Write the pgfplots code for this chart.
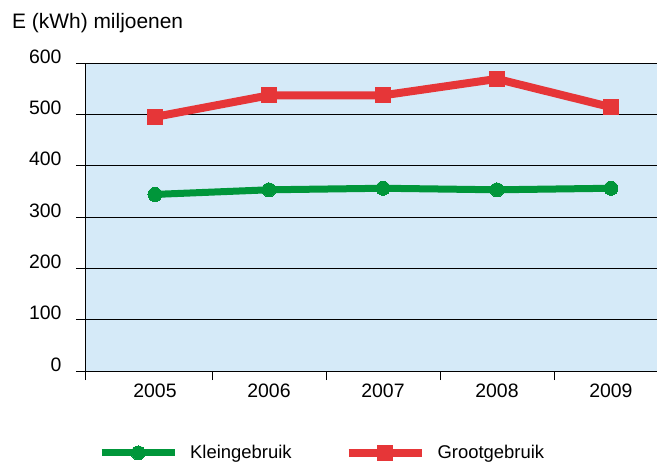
\documentclass[border=0pt]{standalone}
\usepackage{fontspec}
\setmainfont{Liberation Sans}
\usepackage{pgfplots}
\pgfplotsset{compat=1.18}
\definecolor{bgblue}{RGB}{213,234,248}
\definecolor{kgreen}{RGB}{0,150,58}
\definecolor{gred}{RGB}{230,54,56}

\begin{document}
\begin{tikzpicture}
\begin{axis}[
  at={(85bp,93bp)}, anchor=south west,
  scale only axis, width=572bp, height=308bp,
  xmin=-0.614, xmax=4.404, ymin=0, ymax=600,
  axis lines=left,
  axis line style={-, black, line width=0.9bp},
  axis background/.style={fill=bgblue},
  xtick={0,...,4},
  xticklabels={2005,2006,2007,2008,2009},
  major x tick style={draw=none},
  minor xtick={-0.614,0.5,1.5,2.5,3.5},
  minor x tick style={black, line width=0.9bp},
  ytick={0,100,...,600},
  ymajorgrids,
  major grid style={black, line width=0.8bp},
  y tick style={black, line width=0.8bp},
  tick align=outside,
  major tick length=9bp, minor tick length=9bp,
  /pgf/number format/assume math mode=true,
  tick label style={font=\fontsize{19.5}{22}\selectfont},
  yticklabel style={anchor=base east, xshift=-11bp},
  clip=false,
  legend columns=2,
  legend style={at={(axis description cs:0.0227,-0.266)}, anchor=west,
    draw=none, fill=none, inner sep=0pt,
    font=\fontsize{18.5}{20}\selectfont,
    nodes={inner sep=0pt},
    /tikz/every odd column/.append style={column sep=12bp},
    /tikz/every even column/.append style={column sep=53bp}},
  legend image code/.code={
    \draw[mark repeat=2, mark phase=2] plot coordinates {(0bp,0bp) (36.5bp,0bp) (73bp,0bp)};},
]
\addplot[kgreen, line width=7bp, mark=*, mark size=7bp, mark options={solid, line width=0pt}]
  coordinates {(0,344) (1,353) (2,356) (3,353) (4,356)};
\addplot[gred, line width=8bp, mark=square*, mark size=7.5bp, mark options={solid, line width=0pt}]
  coordinates {(0,495) (1,537) (2,537) (3,569) (4,514)};
\legend{Kleingebruik, Grootgebruik}
\end{axis}
\node[anchor=base west, inner sep=0pt, font=\fontsize{21}{24}\selectfont] at (12bp,435bp) {E (kWh) miljoenen};
\pgfresetboundingbox
\useasboundingbox (0,0) rectangle (657bp,464bp);
\end{tikzpicture}
\end{document}
